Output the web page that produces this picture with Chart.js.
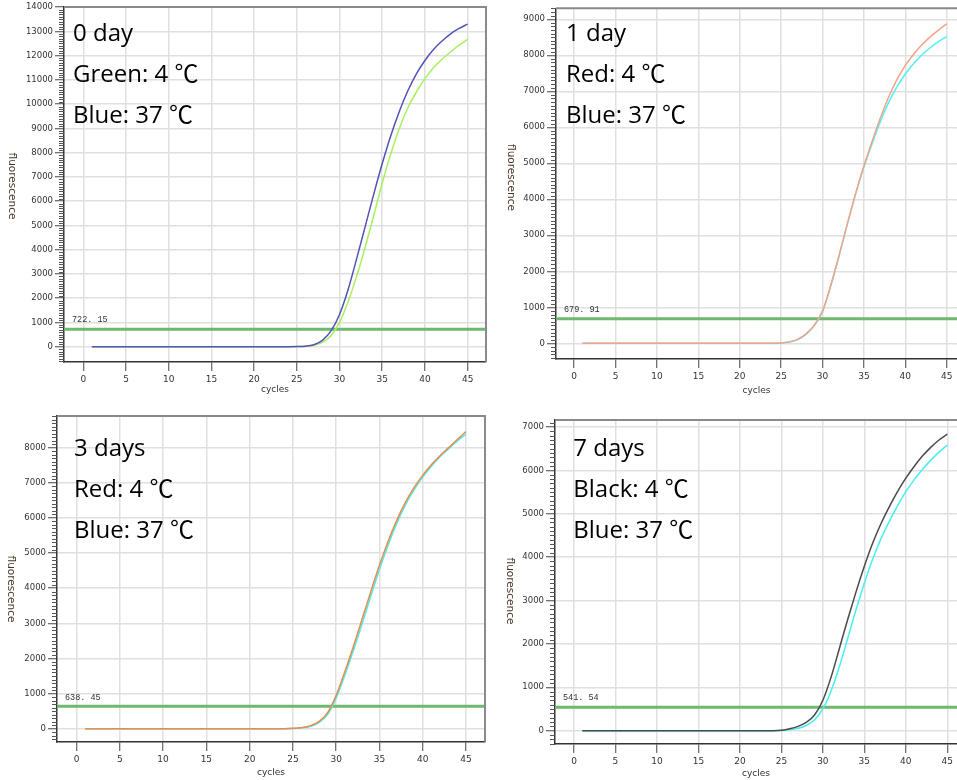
<!DOCTYPE html>
<html>
<head>
<meta charset="utf-8">
<script src="https://cdn.jsdelivr.net/npm/chart.js@4.4.1/dist/chart.umd.min.js"></script>
<style>
  html, body { margin: 0; padding: 0; background: #fff; }
  #page { position: relative; width: 957px; height: 780px; overflow: hidden; background: #fff; }
  .panel { position: absolute; }
</style>
</head>
<body>
<div id="page">
  <div class="panel" style="left:0px;top:0px;width:490px;height:400px"><canvas id="c0"></canvas></div>
  <div class="panel" style="left:490px;top:0px;width:467px;height:400px"><canvas id="c1"></canvas></div>
  <div class="panel" style="left:0px;top:400px;width:490px;height:380px"><canvas id="c2"></canvas></div>
  <div class="panel" style="left:490px;top:400px;width:467px;height:380px"><canvas id="c3"></canvas></div>
</div>
<script>
// Amplification cycles
const cycles = [1, 2, 3, 4, 5, 6, 7, 8, 9, 10, 11, 12, 13, 14, 15, 16, 17, 18, 19, 20,
  21, 22, 23, 24, 25, 26, 27, 28, 29, 30, 31, 32, 33, 34, 35, 36, 37, 38, 39, 40,
  41, 42, 43, 44, 45];

// Tick labels
const cycleTicks = [0, 5, 10, 15, 20, 25, 30, 35, 40, 45];
const day0Ticks = [0, 1000, 2000, 3000, 4000, 5000, 6000, 7000, 8000, 9000, 10000, 11000, 12000, 13000, 14000];
const day1Ticks = [0, 1000, 2000, 3000, 4000, 5000, 6000, 7000, 8000, 9000];
const day3Ticks = [0, 1000, 2000, 3000, 4000, 5000, 6000, 7000, 8000];
const day7Ticks = [0, 1000, 2000, 3000, 4000, 5000, 6000, 7000];

// Fluorescence per cycle, day 0
const day0At4 = [0, 0, 0, 0, 0, 0, 0, 0, 0, 0, 0, 0, 0, 0, 0, 0, 0, 0, 0, 0, 0, 0, 0, 0,
  3, 15, 60, 180, 450, 1000, 1850, 2900, 4100, 5400, 6750, 7950, 9000, 9850, 10500, 11050,
  11500, 11850, 12150, 12430, 12670];
const day0At37 = [0, 0, 0, 0, 0, 0, 0, 0, 0, 0, 0, 0, 0, 0, 0, 0, 0, 0, 0, 0, 0, 0, 0, 0,
  5, 20, 80, 260, 650, 1330, 2350, 3620, 4950, 6280, 7550, 8700, 9700, 10550, 11250, 11800,
  12250, 12600, 12900, 13120, 13300];

// Day 1
const day1At4 = [0, 0, 0, 0, 0, 0, 0, 0, 0, 0, 0, 0, 0, 0, 0, 0, 0, 0, 0, 0, 0, 0, 0,
  3, 10, 40, 110, 260, 500, 900, 1620, 2450, 3330, 4170, 4930, 5620, 6270, 6850, 7330, 7720,
  8030, 8290, 8510, 8700, 8870];
const day1At37 = [0, 0, 0, 0, 0, 0, 0, 0, 0, 0, 0, 0, 0, 0, 0, 0, 0, 0, 0, 0, 0, 0, 0,
  3, 10, 38, 105, 250, 490, 880, 1600, 2430, 3310, 4150, 4900, 5560, 6170, 6700, 7130, 7480,
  7770, 8010, 8210, 8380, 8520];

// Day 3
const day3At4 = [0, 0, 0, 0, 0, 0, 0, 0, 0, 0, 0, 0, 0, 0, 0, 0, 0, 0, 0, 0, 0, 0, 0, 0,
  10, 30, 80, 200, 450, 950, 1620, 2350, 3120, 3900, 4650, 5330, 5930, 6440, 6860, 7210,
  7510, 7770, 8000, 8230, 8456];
const day3At37 = [0, 0, 0, 0, 0, 0, 0, 0, 0, 0, 0, 0, 0, 0, 0, 0, 0, 0, 0, 0, 0, 0, 0, 0,
  8, 25, 65, 170, 400, 870, 1520, 2230, 2990, 3770, 4530, 5220, 5840, 6370, 6800, 7160,
  7470, 7740, 7970, 8190, 8381];

// Day 7
const day7At4 = [0, 0, 0, 0, 0, 0, 0, 0, 0, 0, 0, 0, 0, 0, 0, 0, 0, 0, 0, 0, 0, 0, 0, 0,
  10, 45, 100, 190, 360, 700, 1240, 1900, 2570, 3200, 3790, 4320, 4770, 5160, 5510, 5820,
  6090, 6330, 6530, 6700, 6833];
const day7At37 = [0, 0, 0, 0, 0, 0, 0, 0, 0, 0, 0, 0, 0, 0, 0, 0, 0, 0, 0, 0, 0, 0, 0, 0,
  5, 20, 55, 120, 250, 500, 920, 1480, 2130, 2790, 3400, 3950, 4420, 4820, 5180, 5510,
  5780, 6020, 6230, 6420, 6586];

// Threshold fluorescence of each run
const thresholds = [722.15, 679.91, 638.45, 541.54];

// Panel captions
const captions = [
  ['0 day', 'Green: 4 \u2103', 'Blue: 37 \u2103'],
  ['1 day', 'Red: 4 \u2103', 'Blue: 37 \u2103'],
  ['3 days', 'Red: 4 \u2103', 'Blue: 37 \u2103'],
  ['7 days', 'Black: 4 \u2103', 'Blue: 37 \u2103']
];

const TICK_FONT = '"DejaVu Sans", Verdana, sans-serif';
const NOTE_FONT = '"Open Sans", "Noto Sans CJK SC", sans-serif';

// Minor ticks, threshold line with its value, frame, axis title and captions
const panelDecor = {
  id: 'panelDecor',
  beforeDatasetsDraw(chart, args, o) {
    const { ctx, chartArea: a, scales: { y } } = chart;
    ctx.save();
    ctx.strokeStyle = '#555';
    ctx.lineWidth = 1;
    const start = Math.ceil(y.min / 100);
    const end = Math.floor(y.max / 100);
    for (let k = start; k <= end; k++) {
      if (k % 10 === 0) continue;
      const py = Math.round(y.getPixelForValue(k * 100)) + 0.5;
      ctx.beginPath();
      ctx.moveTo(a.left - 5, py);
      ctx.lineTo(a.left, py);
      ctx.stroke();
    }
    const ty = y.getPixelForValue(o.threshold);
    ctx.strokeStyle = '#6fb96f';
    ctx.lineWidth = 3;
    ctx.beginPath();
    ctx.moveTo(a.left, ty);
    ctx.lineTo(a.right, ty);
    ctx.stroke();
    ctx.font = '8.5px "Liberation Mono", monospace';
    ctx.fillStyle = '#333';
    ctx.textBaseline = 'middle';
    ctx.textAlign = 'left';
    ctx.fillText(o.threshold.toFixed(2).replace('.', '. '), a.left + 8, ty - 9);
    ctx.restore();
  },
  afterDraw(chart, args, o) {
    const { ctx, chartArea: a } = chart;
    ctx.save();
    ctx.strokeStyle = '#8a8a8a';
    ctx.lineWidth = 2;
    ctx.beginPath();
    ctx.moveTo(a.left, a.top);
    ctx.lineTo(a.right, a.top);
    if (o.rightEdge) ctx.lineTo(a.right, a.bottom);
    ctx.stroke();

    ctx.translate(o.titleX, o.titleY);
    ctx.rotate(Math.PI / 2);
    ctx.font = '10.5px ' + TICK_FONT;
    ctx.fillStyle = '#4a3424';
    ctx.textAlign = 'center';
    ctx.textBaseline = 'middle';
    ctx.fillText('fluorescence', 0, 0);
    ctx.restore();

    ctx.save();
    ctx.font = '24px ' + NOTE_FONT;
    ctx.fillStyle = '#000';
    ctx.textAlign = 'left';
    ctx.textBaseline = 'alphabetic';
    o.notes.forEach((t, i) => ctx.fillText(t, o.noteX, o.noteY[i]));
    ctx.restore();
  }
};

function series(values, color) {
  return {
    data: cycles.map((c, i) => ({ x: c, y: values[i] })),
    borderColor: color,
    borderWidth: 1.5,
    pointRadius: 0,
    cubicInterpolationMode: 'monotone',
    fill: false
  };
}

function panel(id, p) {
  return new Chart(document.getElementById(id), {
    type: 'line',
    data: { datasets: p.datasets },
    plugins: [panelDecor],
    options: {
      responsive: true,
      maintainAspectRatio: false,
      devicePixelRatio: 1,
      animation: false,
      events: [],
      layout: { padding: { left: 0, right: p.padRight, top: p.padTop, bottom: 0 } },
      plugins: {
        legend: { display: false },
        tooltip: { enabled: false },
        panelDecor: {
          threshold: p.threshold, rightEdge: p.rightEdge,
          titleX: p.titleX, titleY: p.titleY,
          notes: p.notes, noteX: p.noteX, noteY: p.noteY
        }
      },
      scales: {
        x: {
          type: 'linear', min: p.xMin, max: p.xMax,
          afterBuildTicks: s => { s.ticks = cycleTicks.map(v => ({ value: v })); },
          afterFit: s => { s.height = p.xHeight; },
          ticks: {
            autoSkip: false, maxRotation: 0, padding: 3, color: '#333',
            font: { family: TICK_FONT, size: 9 },
            callback: v => String(v)
          },
          grid: { color: '#e0e0e0', lineWidth: 1.5, tickColor: '#444', tickLength: 9, tickWidth: 1 },
          border: { color: '#333', width: 1.5 },
          title: {
            display: true, text: 'cycles', color: '#333',
            font: { family: TICK_FONT, size: 9 },
            padding: { top: 0, bottom: p.titlePad }
          }
        },
        y: {
          type: 'linear', min: p.yMin, max: p.yMax,
          afterBuildTicks: s => { s.ticks = p.yTicks.map(v => ({ value: v })); },
          afterFit: s => { s.width = p.yWidth; },
          ticks: {
            autoSkip: false, padding: 2, color: '#333',
            font: { family: TICK_FONT, size: 8.5 },
            callback: v => String(v)
          },
          grid: { color: '#e0e0e0', lineWidth: 1.5, tickColor: '#444', tickLength: 9, tickWidth: 1 },
          border: { color: '#333', width: 1.5 }
        }
      }
    }
  });
}

panel('c0', {
  datasets: [series(day0At37, '#5353b6'), series(day0At4, '#a6f25c')],
  xMin: -2.26, xMax: 47.15, yMin: -630, yMax: 14000, yTicks: day0Ticks,
  yWidth: 64, xHeight: 38, padTop: 6, padRight: 4, titlePad: 4.6, rightEdge: true,
  threshold: thresholds[0], titleX: 12, titleY: 186,
  notes: captions[0], noteX: 73, noteY: [40.7, 81.7, 123.3]
});
panel('c1', {
  datasets: [series(day1At4, '#f7a287'), series(day1At37, '#4ff0f5')],
  xMin: -2.2, xMax: 46.24, yMin: -436, yMax: 9305, yTicks: day1Ticks,
  yWidth: 66, xHeight: 41, padTop: 8.3, padRight: 0, titlePad: 3.9, rightEdge: false,
  threshold: thresholds[1], titleX: 21, titleY: 177.5,
  notes: captions[1], noteX: 76, noteY: [40.7, 81.7, 123.3]
});
panel('c2', {
  datasets: [series(day3At4, '#ec8a4c'), series(day3At37, '#45f0f0')],
  xMin: -2.26, xMax: 47.2, yMin: -378, yMax: 8900, yTicks: day3Ticks,
  yWidth: 57, xHeight: 38, padTop: 16, padRight: 5, titlePad: 1.9, rightEdge: true,
  threshold: thresholds[2], titleX: 11, titleY: 189,
  notes: captions[2], noteX: 74, noteY: [56, 96.7, 138.3]
});
panel('c3', {
  datasets: [series(day7At4, '#4a4a4a'), series(day7At37, '#45f0f0')],
  xMin: -2.29, xMax: 46.17, yMin: -307, yMax: 7161, yTicks: day7Ticks,
  yWidth: 65, xHeight: 36, padTop: 20, padRight: 0, titlePad: 1.3, rightEdge: false,
  threshold: thresholds[3], titleX: 20, titleY: 191,
  notes: captions[3], noteX: 83.3, noteY: [56, 96.7, 138.3]
});
</script>
</body>
</html>
